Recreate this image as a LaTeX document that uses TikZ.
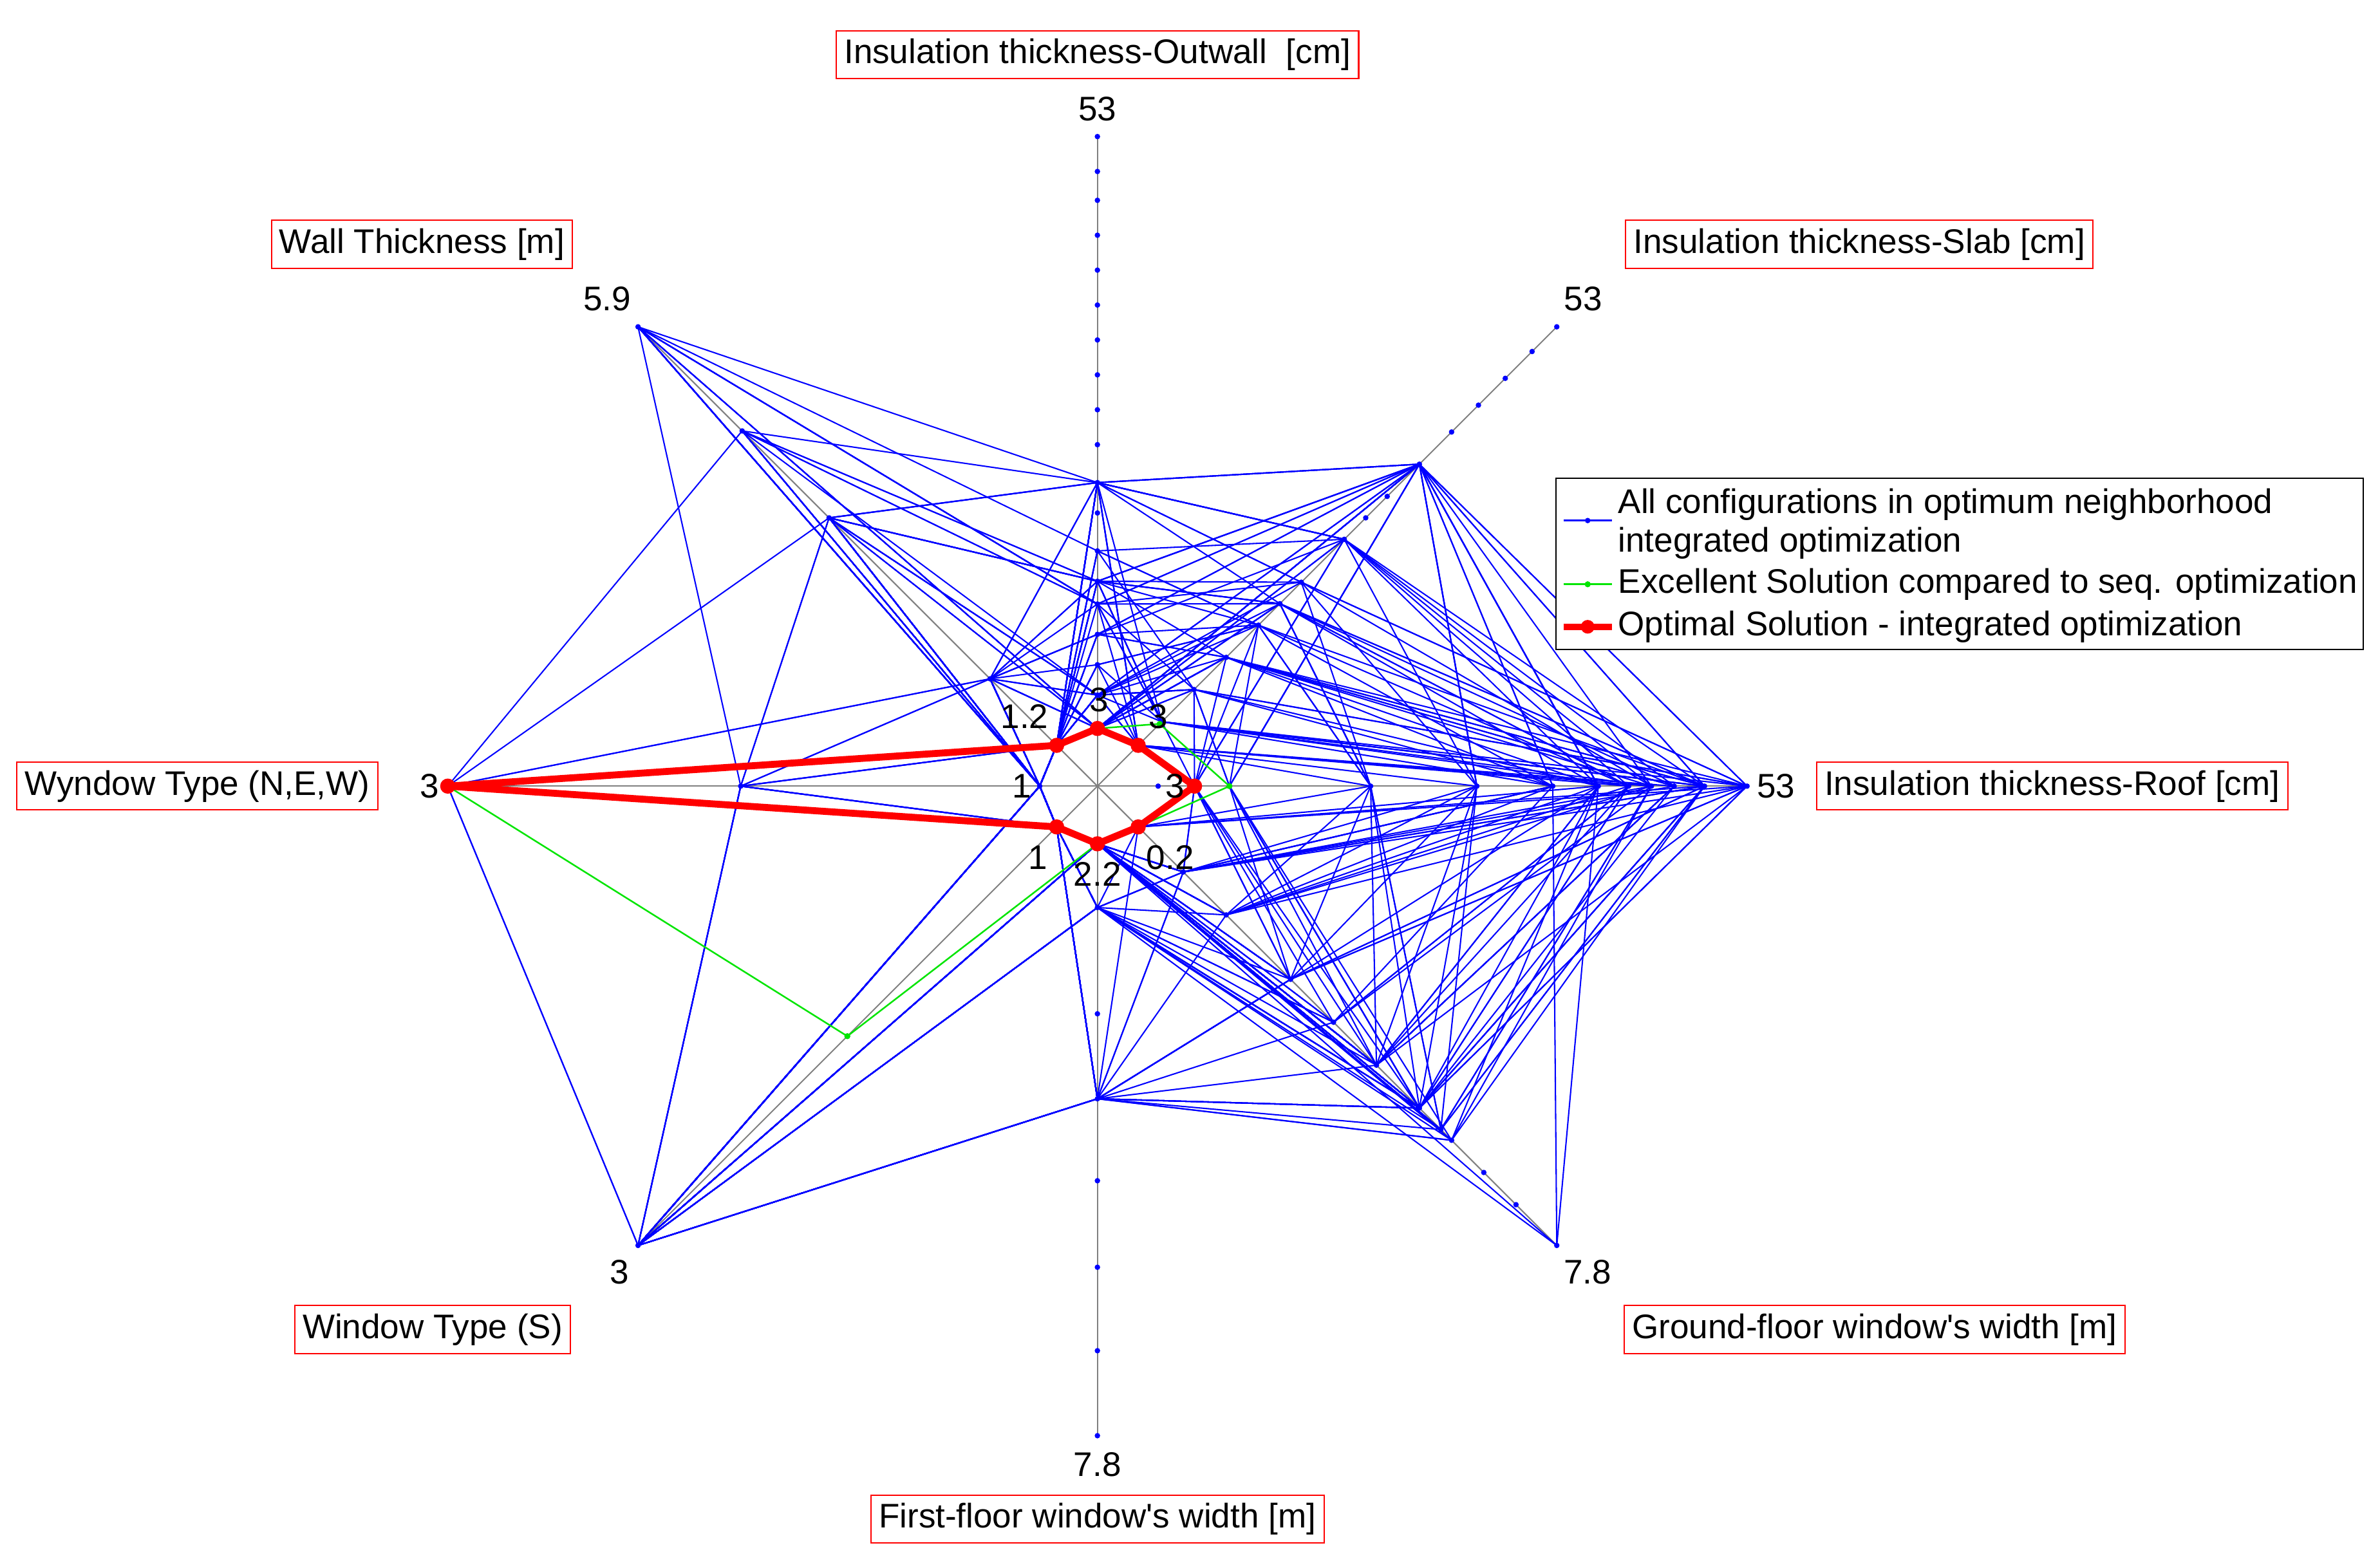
\documentclass[tikz,border=0pt]{standalone}
\usepackage{fontspec}
\setmainfont{Liberation Sans}
\begin{document}
\begin{tikzpicture}[x=0.02cm,y=0.02cm,
  lab/.style={draw=red,line width=0.5pt,inner sep=3pt,font=\fontsize{12.8}{15}\selectfont},
  val/.style={font=\fontsize{12.8}{15}\selectfont,inner sep=1pt},
  leg/.style={font=\fontsize{12.8}{14.5}\selectfont,inner sep=1pt},
  cfg/.style={blue,line width=0.5pt,line join=round},
  dot/.style={blue,fill=blue},
  ax/.style={gray,line width=0.5pt}]
\useasboundingbox (-723,-515) rectangle (845,518);
\fill[white] (-723,-515) rectangle (845,518);
% axes
\foreach \a in {90,45,0,-45,-90,-135,180,135} \draw[ax] (0,0) -- (\a:428);
% configurations
\pgfmathsetseed{11}
\pgfmathdeclarerandomlist{La}{{38}{38}{60}{80}{100}{120}{135}{155}{200}{200}}
\pgfmathdeclarerandomlist{Lb}{{38}{60}{90}{120}{150}{170}{190}{230}{300}{300}}
\pgfmathdeclarerandomlist{Lc}{{64}{87}{180}{250}{300}{330}{350}{365}{380}{400}{428}{428}}
\pgfmathdeclarerandomlist{Ld}{{38}{80}{120}{180}{220}{260}{300}{320}{330}{300}}
\pgfmathdeclarerandomlist{Le}{{38}{38}{38}{38}{80}{206}{206}}
\pgfmathdeclarerandomlist{Lf}{{38}{38}{38}{38}{38}{428}{428}}
\pgfmathdeclarerandomlist{Lg}{{38}{38}{38}{38}{38}{235}{428}}
\pgfmathdeclarerandomlist{Lh}{{38}{38}{38}{38}{38}{100}{331}{428}{250}}
\foreach \i in {1,...,75}{
  \pgfmathrandomitem{\ra}{La}\pgfmathrandomitem{\rb}{Lb}
  \pgfmathrandomitem{\rc}{Lc}\pgfmathrandomitem{\rd}{Ld}
  \pgfmathrandomitem{\re}{Le}\pgfmathrandomitem{\rf}{Lf}
  \pgfmathrandomitem{\rg}{Lg}\pgfmathrandomitem{\rh}{Lh}
  \draw[cfg] (90:\ra) -- (45:\rb) -- (0:\rc) -- (-45:\rd) -- (-90:\re) -- (-135:\rf) -- (180:\rg) -- (135:\rh) -- cycle;
}
\draw[cfg] (90:38) -- (45:120) -- (0:330) -- (-45:428) -- (-90:38) -- (-135:38) -- (180:38) -- (135:38) -- cycle;
\draw[cfg] (90:80) -- (45:60) -- (0:300) -- (-45:428) -- (-90:80) -- (-135:38) -- (180:38) -- (135:38) -- cycle;
% axis dots
\foreach \r in {38,60,80,100,120,135,155,180,200,225,248,271,294,317,340,363,386,405,428} \fill[dot] (90:\r) circle (1.8);
\foreach \r in {38,60,90,120,150,170,190,230,250,270,300,330,355,380,405,428} \fill[dot] (45:\r) circle (1.8);
\foreach \r in {40,64,87,180,250,300,330,350,365,380,400,428} \fill[dot] (0:\r) circle (1.8);
\foreach \r in {38,80,120,180,220,260,300,320,330,360,390,428} \fill[dot] (-45:\r) circle (1.8);
\foreach \r in {38,80,150,206,260,317,372,428} \fill[dot] (-90:\r) circle (1.8);
\foreach \r in {38,233,428} \fill[dot] (-135:\r) circle (1.8);
\foreach \r in {38,235,428} \fill[dot] (180:\r) circle (1.8);
\foreach \r in {38,100,250,331,428} \fill[dot] (135:\r) circle (1.8);
% green
\draw[green!90!black,line width=0.6pt] (90:38) -- (45:58) -- (0:87) -- (-45:38) -- (-90:38) -- (-135:233) -- (180:428) -- (135:38) -- cycle;
\foreach \p in {(90:38),(45:58),(0:87),(-135:233)} \fill[green!90!black] \p circle (2);
% red optimum
\draw[red,line width=2.6pt,line join=round] (90:38) -- (45:38) -- (0:64) -- (-45:38) -- (-90:38) -- (-135:38) -- (180:428) -- (135:38) -- cycle;
\foreach \a/\r in {90/38,45/38,0/64,-45/38,-90/38,-135/38,180/428,135/38} \fill[red] (\a:\r) circle (5);
% axis labels
\node[lab] (l1) at (0,482) {Insulation thickness-Outwall\ \ [cm]};
\node[lab] (l2) at (502,357) {Insulation thickness-Slab [cm]};
\node[lab] (l3) at (629,0) {Insulation thickness-Roof [cm]};
\node[lab] (l4) at (512,-358) {Ground-floor window\textquotesingle s width [m]};
\node[lab] (l5) at (0,-483) {First-floor window\textquotesingle s width [m]};
\node[lab] (l6) at (-438,-358) {Window Type (S)};
\node[lab] (l7) at (-593,0) {Wyndow Type (N,E,W)};
\node[lab] (l8) at (-445,357) {Wall Thickness [m]};
% max values
\node[val] (m1) at (0,446) {53};
\node[val] (m2) at (320,321) {53};
\node[val] (m3) at (447,0) {53};
\node[val] (m4) at (323,-320) {7.8};
\node[val] (m5) at (0,-447) {7.8};
\node[val] (m6) at (-315,-320) {3};
\node[val] (m7) at (-440,0) {3};
\node[val] (m8) at (-323,321) {5.9};
% min values
\node[val] (n1) at (1,57) {3};
\node[val] (n2) at (40,46) {3};
\node[val] (n3) at (51,0) {3};
\node[val] (n4) at (48,-47) {0.2};
\node[val] (n5) at (0,-58) {2.2};
\node[val] (n6) at (-39,-47) {1};
\node[val] (n7) at (-50,0) {1};
\node[val] (n8) at (-48,46) {1.2};
% legend
\draw[black,fill=white,line width=0.5pt] (302,203) rectangle (834,90);
\draw[blue,line width=0.6pt] (307,175) -- (339,175); \fill[blue] (323,175) circle (1.8);
\draw[green!90!black,line width=0.6pt] (307,133) -- (339,133); \fill[green!90!black] (323,133) circle (2);
\draw[red,line width=2.4pt] (307,105) -- (339,105); \fill[red] (323,105) circle (4.5);
\node[leg,anchor=west,align=left] (g1) at (341,173) {All configurations in optimum neighborhood\\integrated optimization};
\node[leg,anchor=west] (g2) at (341,133) {Excellent Solution compared to seq. optimization};
\node[leg,anchor=west] (g3) at (341,105) {Optimal Solution - integrated optimization};
\end{tikzpicture}
\end{document}
